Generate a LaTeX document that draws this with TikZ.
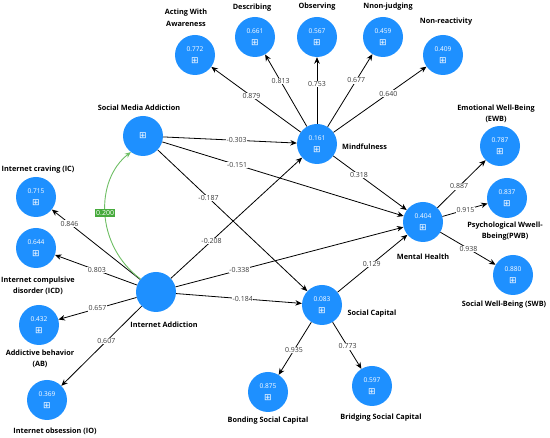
\documentclass[tikz,border=0pt]{standalone}
\usepackage{fontspec}
\setmainfont{Open Sans}
\newfontfamily\symfont{DejaVu Sans}
\usetikzlibrary{arrows.meta}
\definecolor{lvblue}{RGB}{30,144,255}
\definecolor{lblgray}{RGB}{60,60,60}
\definecolor{grline}{RGB}{110,190,100}
\definecolor{grbox}{RGB}{70,170,60}
\newcommand\pbox{{\symfont\fontsize{9}{9}\selectfont ⊞}}
\tikzset{
  lv/.style={circle, fill=lvblue, minimum size=40pt, inner sep=0pt, text=white, align=center,
    font=\fontsize{6.6}{12.5}\selectfont},
  lab/.style={font=\bfseries\fontsize{7.3}{11.5}\selectfont, align=center, inner sep=0pt},
  el/.style={fill=white, inner sep=0.6pt, text=lblgray, font=\fontsize{7}{7}\selectfont},
  arr/.style={-{Stealth[length=6.5pt,width=5.5pt]}, line width=0.8pt, black},
  garr/.style={-{Stealth[length=6pt,width=5pt]}, line width=0.9pt, grline},
  gl/.style={fill=grbox, text=white, inner sep=1.2pt, font=\fontsize{7}{7}\selectfont},
}
\begin{document}
\begin{tikzpicture}[x=1pt, y=-1pt]
\useasboundingbox (0,0) rectangle (550,438);
% latent variables
\node[lv] (AWA) at (195,55) {0.772\\\pbox};
\node[lv] (DES) at (255,37) {0.661\\\pbox};
\node[lv] (OBS) at (317,37) {0.567\\\pbox};
\node[lv] (NJ) at (383,37) {0.459\\\pbox};
\node[lv] (NR) at (443,55) {0.409\\\pbox};
\node[lv] (SMA) at (143,136) {\pbox};
\node[lv] (MF) at (317,144) {0.161\\\pbox};
\node[lv] (EWB) at (500,146) {0.787\\\pbox};
\node[lv] (PWB) at (507,198) {0.837\\\pbox};
\node[lv] (MH) at (423,222) {0.404\\\pbox};
\node[lv] (SWB) at (513,275) {0.880\\\pbox};
\node[lv] (IC) at (36,197) {0.715\\\pbox};
\node[lv] (ICD) at (36,248) {0.644\\\pbox};
\node[lv] (IA) at (156,292) {};
\node[lv] (AB) at (39,325) {0.432\\\pbox};
\node[lv] (IO) at (47,400) {0.369\\\pbox};
\node[lv] (SC) at (322,305) {0.083\\\pbox};
\node[lv] (BOND) at (268,392) {0.875\\\pbox};
\node[lv] (BRID) at (372,386) {0.597\\\pbox};
% labels
\node[lab] (tAWA) at (186,18) {Acting With\\Awareness};
\node[lab] (tDES) at (252,8) {Describing};
\node[lab] (tOBS) at (317,7) {Observing};
\node[lab] (tNJ) at (388,7) {Nnon-judging};
\node[lab] (tNR) at (446,22) {Non-reactivity};
\node[lab] (tSMA) at (139,108) {Social Media Addiction};
\node[lab, anchor=west] (tMF) at (342,147) {Mindfulness};
\node[lab] (tEWB) at (496,114) {Emotional Well-Being\\(EWB)};
\node[lab] (tPWB) at (505,231) {Psychological Wwell-\\Bbeing(PWB)};
\node[lab] (tMH) at (423,257) {Mental Health};
\node[lab] (tSWB) at (504,305) {Social Well-Being (SWB)};
\node[lab] (tIC) at (38,170) {Internet craving (IC)};
\node[lab] (tICD) at (38,286) {Internet compulsive\\disorder (ICD)};
\node[lab] (tIA) at (164,325) {Internet Addiction};
\node[lab] (tAB) at (40,359) {Addictive behavior\\(AB)};
\node[lab] (tIO) at (55,431) {Internet obsession (IO)};
\node[lab] (tSC) at (372,314) {Social Capital};
\node[lab] (tBOND) at (268,421) {Bonding Social Capital};
\node[lab] (tBRID) at (381,418) {Bridging Social Capital};
% mindfulness indicators
\draw[arr] (MF) -- node[el, pos=0.55] {0.879} (AWA);
\draw[arr] (MF) -- node[el, pos=0.63] {0.813} (DES);
\draw[arr] (MF) -- node[el, pos=0.60] {0.753} (OBS);
\draw[arr] (MF) -- node[el, pos=0.64] {0.677} (NJ);
\draw[arr] (MF) -- node[el, pos=0.59] {0.640} (NR);
% structural paths
\draw[arr] (SMA) -- node[el, pos=0.55] {-0.303} (MF);
\draw[arr] (SMA) -- node[el, pos=0.31] {-0.151} (MH);
\draw[arr] (SMA) -- node[el, pos=0.34] {-0.187} (SC);
\draw[arr] (IA) -- node[el, pos=0.31] {-0.208} (MF);
\draw[arr] (IA) -- node[el, pos=0.28] {-0.338} (MH);
\draw[arr] (IA) -- node[el, pos=0.53] {-0.184} (SC);
\draw[arr] (MF) -- node[el, pos=0.35] {0.318} (MH);
\draw[arr] (SC) -- node[el, pos=0.49] {0.129} (MH);
% internet addiction indicators
\draw[arr] (IA) -- node[el, pos=0.80] {0.846} (IC);
\draw[arr] (IA) -- node[el, pos=0.49] {0.803} (ICD);
\draw[arr] (IA) -- node[el, pos=0.50] {0.657} (AB);
\draw[arr] (IA) -- node[el, pos=0.44] {0.607} (IO);
% mental health indicators
\draw[arr] (MH) -- node[el, pos=0.45] {0.887} (EWB);
\draw[arr] (MH) -- node[el, pos=0.51] {0.915} (PWB);
\draw[arr] (MH) -- node[el, pos=0.51] {0.938} (SWB);
% social capital indicators
\draw[arr] (SC) -- node[el, pos=0.53] {0.935} (BOND);
\draw[arr] (SC) -- node[el, pos=0.52] {0.773} (BRID);
% green curved path
\draw[garr] (IA.140) .. controls (95,245) and (95,180) .. node[gl, pos=0.5] {0.200} (SMA.233);
\end{tikzpicture}
\end{document}
